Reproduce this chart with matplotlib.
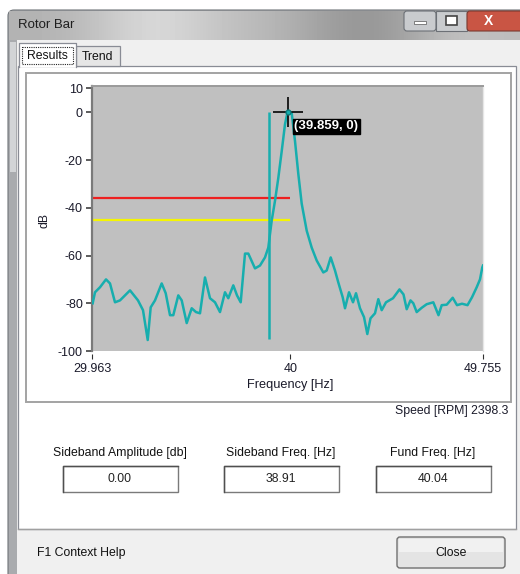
import matplotlib
matplotlib.use('Agg')
import matplotlib.pyplot as plt
from matplotlib.patches import Rectangle, FancyBboxPatch
import numpy as np

# ---------------- data ----------------
freq_hz = [29.998, 30.115, 30.368, 30.672, 30.874, 31.127, 31.380, 31.887, 32.291, 32.545,
           32.783, 32.934, 33.152, 33.491, 33.694, 33.911, 34.078, 34.331, 34.504, 34.757,
           35.010, 35.227, 35.430, 35.683, 35.936, 36.189, 36.442, 36.695, 36.862, 37.115,
           37.303, 37.490, 37.708, 37.875, 38.214, 38.467, 38.720, 38.887, 39.059, 39.226,
           39.394, 39.566, 39.733, 39.859, 40.072, 40.239, 40.406, 40.578, 40.831, 41.084,
           41.337, 41.671, 41.843, 42.046, 42.264, 42.431, 42.653, 42.770, 42.972, 43.175,
           43.327, 43.529, 43.732, 43.899, 44.061, 44.288, 44.456, 44.627, 44.845, 45.199,
           45.528, 45.731, 45.893, 46.085, 46.227, 46.399, 46.652, 46.905, 47.239, 47.502,
           47.665, 47.918, 48.221, 48.439, 48.692, 48.971, 49.198, 49.436, 49.603, 49.719,
           49.755]
amp_db = [-80.0, -75.4, -73.3, -70.0, -71.7, -79.6, -78.8, -74.6, -78.8, -82.9,
          -95.4, -81.7, -78.8, -71.7, -75.8, -85.0, -85.0, -76.7, -78.8, -88.3,
          -82.1, -83.7, -84.2, -69.2, -77.9, -79.6, -83.7, -75.4, -77.9, -72.5,
          -76.7, -79.6, -59.2, -59.2, -65.4, -64.2, -60.8, -56.7, -45.4, -37.1,
          -27.5, -16.3, -5.0, 0.0, -0.4, -12.1, -25.8, -38.3, -49.6, -56.7,
          -62.1, -67.1, -66.3, -60.8, -66.3, -71.3, -77.5, -82.1, -75.4, -79.6,
          -75.8, -82.1, -85.8, -92.9, -86.3, -84.2, -78.3, -82.9, -79.6, -77.9,
          -74.2, -76.3, -82.5, -78.8, -80.0, -83.7, -81.9, -80.4, -79.6, -85.0,
          -80.8, -80.6, -77.7, -80.8, -80.2, -80.8, -77.5, -73.3, -70.0, -65.0,
          -64.2]
sideband_freq = 38.91
sideband_line_db = [0, -95]
red_level_db = -36
yellow_level_db = -45
level_end_hz = 40.0
peak_freq = 39.859
peak_db = 0
x_min, x_max = 29.963, 49.755
x_ticks = [29.963, 40, 49.755]
x_tick_labels = ['29.963', '40', '49.755']
y_ticks = [10, 0, -20, -40, -60, -80, -100]
speed_rpm = 2398.3
field_labels = ['Sideband Amplitude [db]', 'Sideband Freq. [Hz]', 'Fund Freq. [Hz]']
field_values = ['0.00', '38.91', '40.04']

# ---------------- figure ----------------
W, H = 520, 574
FONT = 'Liberation Sans'
FS = 8.8
plt.rcParams['font.family'] = [FONT, 'DejaVu Sans']
fig = plt.figure(figsize=(W / 100, H / 100), dpi=100, facecolor='white')

bg = fig.add_axes([0, 0, 1, 1], zorder=0)
bg.set_xlim(0, W)
bg.set_ylim(H, 0)
bg.axis('off')

# window frame (left edge strip)
bg.add_patch(FancyBboxPatch((8, 10), 540, 600, boxstyle='round,pad=0,rounding_size=6',
                            facecolor='#a9abae', edgecolor='#6f7378', lw=0.8))
bg.add_patch(Rectangle((10, 42), 6, 130, facecolor='#d2d4d6', edgecolor='none'))

# title bar gradient
grad = np.array([[0.70, 0.72, 0.80, 0.86, 0.80, 0.74, 0.70, 0.62, 0.58, 0.66, 0.76, 0.74]])
bg.imshow(grad, cmap='gray', vmin=0, vmax=1, aspect='auto',
          extent=(9, 520, 40, 11), interpolation='bicubic', zorder=1)
bg.text(18, 25.5, 'Rotor Bar', fontsize=9.5, color='#1e1e1e', ha='left', va='center', zorder=3)

# caption buttons
bg.add_patch(FancyBboxPatch((404, 11), 32, 20, boxstyle='round,pad=0,rounding_size=3',
                            facecolor='#c9cbce', edgecolor='#6c7076', lw=0.8, zorder=2))
bg.add_patch(Rectangle((414, 21), 12, 3, facecolor='white', edgecolor='#555', lw=0.5, zorder=3))
bg.add_patch(Rectangle((436, 11), 31, 20, facecolor='#c9cbce', edgecolor='#6c7076', lw=0.8, zorder=2))
bg.add_patch(Rectangle((446, 16), 11, 9, facecolor='white', edgecolor='#444', lw=1.2, zorder=3))
bg.add_patch(FancyBboxPatch((467, 11), 60, 20, boxstyle='round,pad=0,rounding_size=3',
                            facecolor='#c95544', edgecolor='#7a3a30', lw=0.8, zorder=2))
bg.text(488, 21, 'X', fontsize=10, fontweight='bold', color='white', ha='center', va='center', zorder=3)

# client area
bg.add_patch(Rectangle((17, 40), 510, 540, facecolor='#f0f0f0', edgecolor='none', zorder=1))
# tab page
bg.add_patch(Rectangle((18, 66), 498, 463, facecolor='white', edgecolor='#898c95', lw=0.9, zorder=1.5))
# tabs
bg.add_patch(Rectangle((76, 46), 44, 20, facecolor='#e6e6e6', edgecolor='#898c95', lw=0.9, zorder=1.6))
bg.text(98, 57, 'Trend', fontsize=FS, color='#111', ha='center', va='center', zorder=3)
bg.add_patch(Rectangle((19, 43), 57, 24, facecolor='white', edgecolor='none', zorder=1.7))
bg.plot([19, 19, 76, 76], [67, 43, 43, 67], color='#898c95', lw=0.9, zorder=1.8)
bg.add_patch(Rectangle((22, 47), 51, 17, facecolor='none', edgecolor='#222', lw=0.8,
                       linestyle=(0, (1, 1)), zorder=3))
bg.text(47.5, 56, 'Results', fontsize=FS, color='#111', ha='center', va='center', zorder=3)

# chart panel
bg.add_patch(Rectangle((26, 73), 485, 329, facecolor='white', edgecolor='#a3a3a3', lw=1.4, zorder=2))

# speed text
bg.text(508, 411, f'Speed [RPM] {speed_rpm}', fontsize=FS, color='#1a1a2a', ha='right', va='center', zorder=3)

# fields
centers = [120, 281, 433]
for cx, lab, val in zip(centers, field_labels, field_values):
    bg.text(cx, 453, lab, fontsize=FS, color='#111', ha='center', va='center', zorder=3)
    bg.add_patch(Rectangle((cx - 57.5, 466), 115, 26, facecolor='white', edgecolor='#7a7a7a', lw=1.0, zorder=2))
    bg.plot([cx - 57.5, cx - 57.5, cx + 57.5], [492, 466, 466], color='#505050', lw=1.0, zorder=2.5)
    bg.text(cx, 479.5, val, fontsize=FS, color='#222', ha='center', va='center', zorder=3)

# bottom strip
bg.plot([18, 516], [529, 529], color='#a0a0a0', lw=1.0, zorder=2)
bg.text(37, 553, 'F1 Context Help', fontsize=FS, color='#111', ha='left', va='center', zorder=3)
bg.add_patch(FancyBboxPatch((397, 537), 108, 31, boxstyle='round,pad=0,rounding_size=3',
                            facecolor='#e4e4e4', edgecolor='#707070', lw=1.0, zorder=2))
bg.add_patch(Rectangle((399, 539), 104, 13, facecolor='#f1f1f1', edgecolor='none', zorder=2.2))
bg.text(451, 553, 'Close', fontsize=FS, color='#111', ha='center', va='center', zorder=3)

# ---------------- chart ----------------
ax_l, ax_r, ax_t, ax_b = 92, 483, 86, 351
ax = fig.add_axes([ax_l / W, (H - ax_b) / H, (ax_r - ax_l) / W, (ax_b - ax_t) / H], zorder=5)
ax.set_facecolor('#c0c0c0')
ax.set_xlim(x_min, x_max)
ax.set_ylim(-100, 11)

teal = '#17aeae'
ax.hlines(red_level_db, x_min, level_end_hz, color='#ee2020', lw=1.6, zorder=2)
ax.hlines(yellow_level_db, x_min, level_end_hz, color='#f5f500', lw=1.6, zorder=2)
ax.plot(freq_hz, amp_db, color=teal, lw=1.8, zorder=3, solid_joinstyle='round')
ax.vlines(sideband_freq, sideband_line_db[1], sideband_line_db[0], color=teal, lw=1.8, zorder=3)

# cursor
ax.plot([peak_freq], [peak_db], marker='+', markersize=22, markeredgewidth=1.3,
        color='#111111', zorder=6, clip_on=False)
ax.plot([peak_freq], [peak_db], marker='o', markersize=3.5, color=teal,
        markeredgecolor='#0c7c7c', zorder=7, clip_on=False)
ax.annotate(f'({peak_freq}, {peak_db})', xy=(peak_freq, peak_db), xytext=(7, -8),
            textcoords='offset pixels', ha='left', va='top', fontsize=9.5, fontweight='bold',
            color='white', zorder=8,
            bbox=dict(boxstyle='square,pad=0.12', facecolor='black', edgecolor='black'))

# spines
for s in ['top', 'right', 'left', 'bottom']:
    ax.spines[s].set_visible(True)
ax.spines['left'].set_color('#7a7a7a')
ax.spines['left'].set_linewidth(1.6)
ax.spines['top'].set_color('#9a9a9a')
ax.spines['top'].set_linewidth(1.4)
ax.spines['right'].set_color('#e6e6e6')
ax.spines['right'].set_linewidth(1.0)
ax.spines['bottom'].set_visible(False)
ax.spines['bottom'].set_position(('outward', 2.5))

ax.set_yticks(y_ticks)
ax.set_yticklabels([str(v) for v in y_ticks])
ax.set_xticks(x_ticks)
ax.set_xticklabels(x_tick_labels)
ax.tick_params(axis='y', direction='out', length=4.5, width=1.1, color='#303030',
               pad=2, labelsize=9, labelcolor='#1a1a2a')
ax.tick_params(axis='x', direction='out', length=3.6, width=0.8, color='#303030',
               pad=2.5, labelsize=9, labelcolor='#1a1a2a')

ax.set_xlabel('Frequency [Hz]', fontsize=FS + 0.4, color='#1a1a2a')
ax.xaxis.label.set_va('center')
ax.xaxis.set_label_coords((290 - ax_l) / (ax_r - ax_l), (ax_b - 385) / (ax_b - ax_t))
ax.set_ylabel('dB', fontsize=FS, color='#1a1a2a')
ax.yaxis.label.set_va('center')
ax.yaxis.set_label_coords((45 - ax_l) / (ax_r - ax_l), (ax_b - 220) / (ax_b - ax_t))

fig.savefig('out.png', dpi=100, facecolor='white')
